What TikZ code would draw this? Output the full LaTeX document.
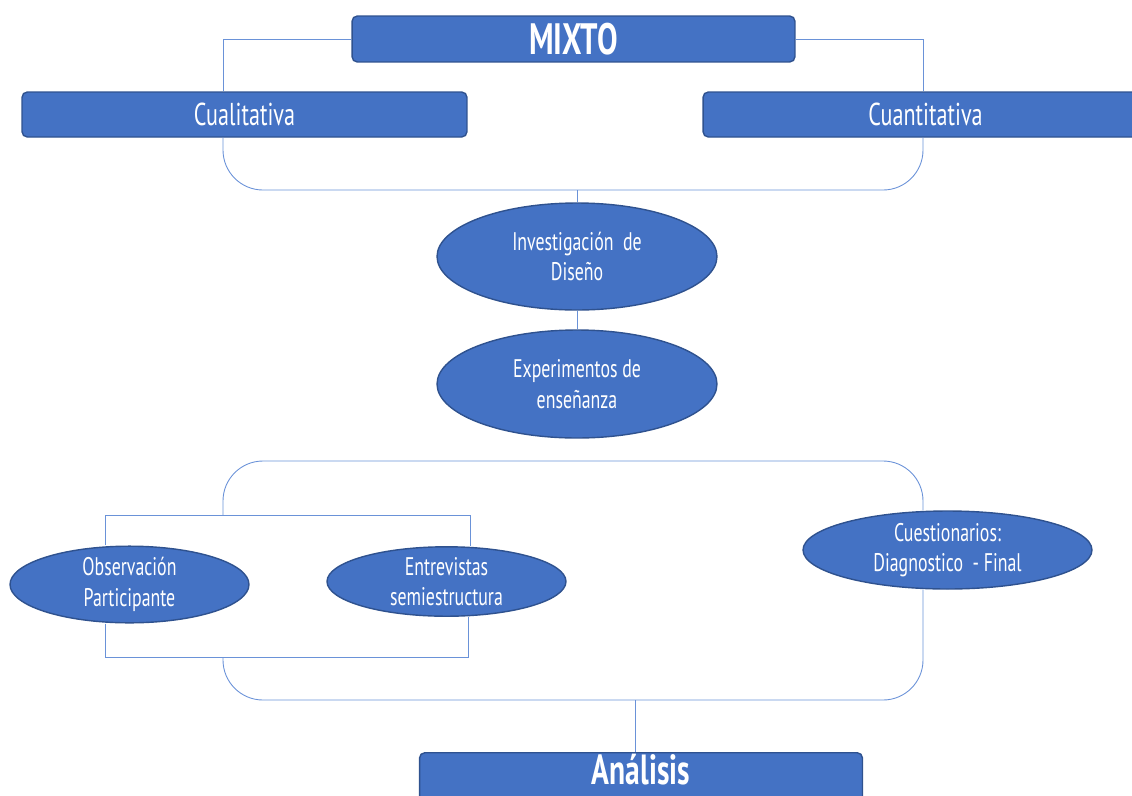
\documentclass[tikz,border=0pt]{standalone}
\usepackage{fontspec}
\setmainfont[FakeStretch=0.7]{PT Sans}
\usetikzlibrary{shapes.geometric}
\definecolor{boxblue}{HTML}{4472C4}
\definecolor{edgeblue}{HTML}{2F528F}
\definecolor{linkblue}{HTML}{6A92D8}
\begin{document}
\begin{tikzpicture}[x=0.02cm, y=-0.02cm,
    titlebox/.style ={rectangle, rounded corners=3pt, draw=edgeblue, line width=0.8pt, fill=boxblue, text=white,
      minimum width=8.86cm, minimum height=0.92cm, inner sep=0pt, font=\bfseries\fontsize{25}{27}\selectfont},
    branchbox/.style ={titlebox, minimum width=8.9cm, minimum height=0.9cm, font=\fontsize{18}{20}\selectfont},
    method/.style ={ellipse, draw=edgeblue, line width=0.8pt, fill=boxblue, text=white, inner sep=0pt,
      align=center, font=\fontsize{14.5}{17.5}\selectfont},
    link/.style ={draw=linkblue, line width=0.5pt}]
   \path[use as bounding box, clip] (0,0) rectangle (1132,795);

   \node[titlebox] (mixto) at (573.5,39) {MIXTO};
   \node[branchbox] (cual) at (244.5,114.5) {Cualitativa};
   \node[branchbox] (cuant) at (925.5,114.5) {Cuantitativa};
   \node[method, minimum width=5.6cm, minimum height=2.14cm] (inv) at (577,256.5) {Investigación\ \ de\\Diseño};
   \node[method, minimum width=5.6cm, minimum height=2.16cm] (exp) at (577,384) {Experimentos de\\enseñanza};
   \node[method, minimum width=4.78cm, minimum height=1.38cm] (obs) at (129.5,584.5) {Observación\\Participante};
   \node[method, minimum width=4.78cm, minimum height=1.38cm] (ent) at (446.5,581.5) {Entrevistas\\semiestructura};
   \node[method, minimum width=5.78cm, minimum height=1.56cm] (cues) at (947.5,550) {Cuestionarios:\\Diagnostico\ \ - Final};
   \node[titlebox, anchor=north, minimum height=0pt, text height=0.64cm, text depth=0.56cm,
     font=\bfseries\fontsize{24}{26}\selectfont] (ana) at (641,752) {Análisis};

   \coordinate (brL) at (223,0);
   \coordinate (brR) at (923,0);
   \coordinate (jtop) at (577,190);
   \coordinate (jmid) at (577,461);
   \coordinate (jbot) at (635,700);
   \coordinate (pairL) at (105,515);
   \coordinate (pairR) at (470,515);
   \coordinate (pairB) at (468,657);

   % top: mixto splits in two
   \draw[link] (mixto.west) -| (cual.north -| brL);
   \draw[link] (mixto.east) -| (cuant.north -| brR);
   \draw[link, rounded corners=0.8cm] (cual.south -| brL) |- (jtop) -| (cuant.south -| brR);
   \draw[link] (jtop) -- (inv.north);
   \draw[link] (inv) -- (exp);

   % instruments
   \draw[link, rounded corners=0.8cm] (pairR -| brL) |- (jmid) -| (cues.north -| brR);
   \draw[link] (obs.north -| pairL) |- (pairR) -- (ent.north -| pairR);
   \draw[link] (obs.south -| pairL) |- (pairB) -- (ent.south -| pairB);
   \draw[link, rounded corners=0.8cm] (pairB -| brL) |- (jbot) -| (cues.south -| brR);
   \draw[link] (jbot) -- (ana.north -| jbot);
\end{tikzpicture}
\end{document}
